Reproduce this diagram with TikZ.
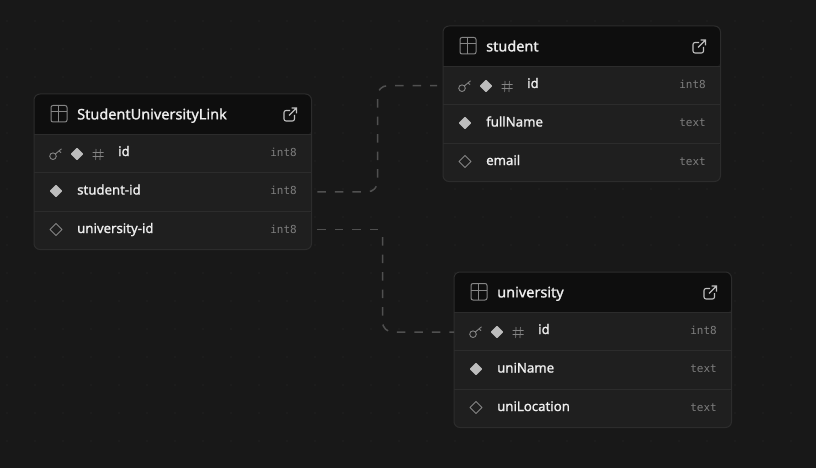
\documentclass[tikz,border=0pt]{standalone}
\usepackage{fontspec}
\usetikzlibrary{calc}
\setmainfont{Noto Sans}
\newfontfamily\uifont[FakeBold=1.3]{Noto Sans}
\newfontfamily\typefont{DejaVu Sans Mono}
\definecolor{canvas}{HTML}{181818}
\definecolor{griddot}{HTML}{2A2A2A}
\definecolor{headfill}{HTML}{0E0E0E}
\definecolor{rowfill}{HTML}{1F1F1F}
\definecolor{frame}{HTML}{2C2C2C}
\definecolor{iconline}{HTML}{858585}
\definecolor{iconfill}{HTML}{BDBDBD}
\definecolor{typetext}{HTML}{7E7E7E}
\definecolor{wire}{HTML}{505050}
\tikzset{
  titletext/.style={anchor=base west,inner sep=0pt,text=white!93!black,font=\uifont\fontsize{14.5}{16}\selectfont},
  coltext/.style={anchor=base west,inner sep=0pt,text=white!93!black,font=\uifont\fontsize{13.2}{15}\selectfont},
  typelabel/.style={anchor=base east,inner sep=0pt,text=typetext,font=\typefont\fontsize{11}{13}\selectfont},
  rowcell/.style={anchor=north west,inner sep=0pt,minimum width=277.5pt,minimum height=38.6pt,fill=rowfill},
  iconstroke/.style={draw=iconline,line width=.9pt},
  filledgem/.style={fill=iconfill,draw=iconfill,line width=1.4pt,line join=round},
  hollowgem/.style={draw=iconline,line width=.9pt,line join=round},
  wirepath/.style={draw=wire,line width=1.5pt,dash pattern=on 8.5pt off 9pt},
}
\newcommand{\gemfilled}[2]{\path[filledgem] (#1-5.4,#2) -- (#1,#2-5.4) -- (#1+5.4,#2) -- (#1,#2+5.4) -- cycle;}
\newcommand{\gemhollow}[2]{\path[hollowgem] (#1-6,#2) -- (#1,#2-6) -- (#1+6,#2) -- (#1,#2+6) -- cycle;}
\newcommand{\keyicon}[2]{%
  \draw[iconstroke] (#1-3,#2+2.2) circle (3.3);
  \draw[iconstroke] (#1-.7,#2) -- (#1+5.5,#2-5.2) (#1+3,#2-3.2) -- (#1+5,#2-1.4);}
\newcommand{\hashicon}[2]{%
  \draw[iconstroke,line width=.7pt] (#1-2,#2-5.5) -- (#1-2.4,#2+5.5) (#1+2.4,#2-5.5) -- (#1+2,#2+5.5)
    (#1-5.5,#2-2) -- (#1+5.5,#2-2) (#1-5.5,#2+2) -- (#1+5.5,#2+2);}
\newcommand{\dbtable}[9]{%
  \begin{scope}[shift={(#2,#3)}]
    \fill[headfill,rounded corners=6] (0,41) -- (0,0) -- (277.5,0) -- (277.5,41) [sharp corners] -- cycle;
    \node[rowcell] (#1-r1) at (0,40.5) {};
    \node[rowcell] (#1-r2) at (0,78.8) {};
    \path[fill=rowfill,rounded corners=6] (0,116) -- (0,155.5) -- (277.5,155.5) -- (277.5,116) [sharp corners] -- cycle;
    \node[rowcell,minimum height=37pt,fill=none] (#1-r3) at (0,117) {};
    \draw[frame,line width=1pt] (0,40.5) -- (277.5,40.5) (0,78.5) -- (277.5,78.5) (0,117) -- (277.5,117);
    \draw[frame,line width=1pt,rounded corners=6] (0,0) rectangle (277.5,155.5);
    \draw[iconline,line width=1pt,rounded corners=2] (17,11.5) rectangle (33,28);
    \draw[iconline,line width=1pt] (17,18) -- (33,18) (24,11.5) -- (24,28);
    \node[titletext] (#1-title) at (43,25.4) {#4};
    \draw[draw=white!75!black,line width=1.1pt,rounded corners=2] (256,16.5) -- (250,16.5) -- (250,27) -- (260.5,27) -- (260.5,21);
    \draw[draw=white!75!black,line width=1.1pt] (255,21.5) -- (262.5,14) (257.5,14) -- (262.5,14) -- (262.5,19.5);
    \keyicon{22}{60}
    \gemfilled{43}{60}
    \hashicon{64}{60.5}
    \node[coltext] (#1-c1) at (84,62) {id};
    \node[typelabel] (#1-t1) at (263,62.5) {int8};
    \gemfilled{22}{97}
    \node[coltext] (#1-c2) at (43,100.5) {#5};
    \node[typelabel] (#1-t2) at (263,100.5) {#6};
    \gemhollow{22}{135.5}
    \node[coltext] (#1-c3) at (43,139) {#7};
    \node[typelabel] (#1-t3) at (263,139) {#8};
  \end{scope}}
\begin{document}
\begin{tikzpicture}[x=1pt,y=-1pt]
  \useasboundingbox (0,0) rectangle (816,468);
  \fill[canvas] (0,0) rectangle (816,468);
  \foreach \gx in {0,...,28} \foreach \gy in {0,...,16} \fill[griddot] (7+28*\gx,21+28*\gy) circle (.7);
  \dbtable{link}{34}{94}{StudentUniversityLink}{student-id}{int8}{university-id}{int8}{}
  \dbtable{stu}{443}{26}{student}{fullName}{text}{email}{text}{}
  \dbtable{uni}{454}{272}{university}{uniName}{text}{uniLocation}{text}{}
  \coordinate (linkA) at ($(link-r2.east)+(5.5,-.5)$);
  \coordinate (linkB) at ($(link-r3.east)+(5.5,0)$);
  \coordinate (stuA) at ($(stu-r1.west)+(-6,-.3)$);
  \draw[wirepath,rounded corners=10] (linkA) -- (linkA -| 377.5,0) -- (stuA -| 377.5,0) -- (stuA);
  \draw[wirepath] (linkB) -- (linkB -| 379,0);
  \draw[wirepath,rounded corners=10] (382.5,237) -- (uni-r1.west -| 382.5,0) -- (uni-r1.west);
\end{tikzpicture}
\end{document}
